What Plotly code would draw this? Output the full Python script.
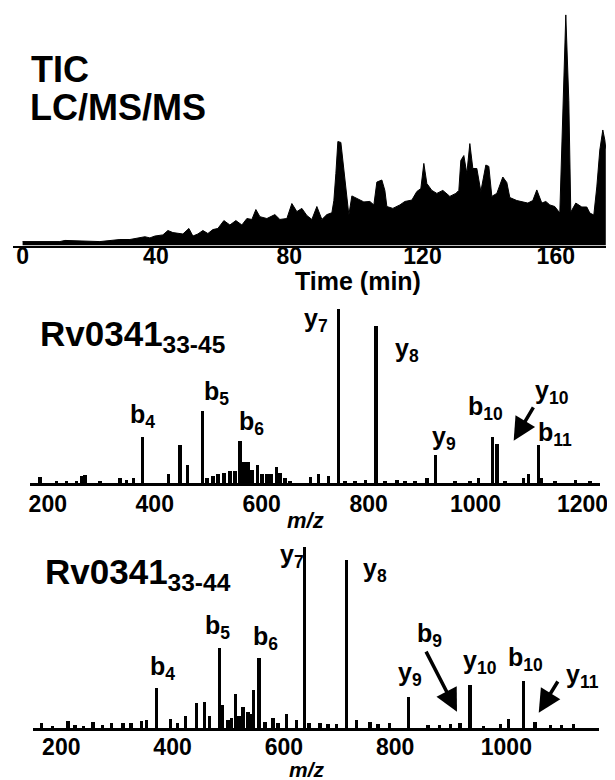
import plotly.graph_objects as go

# ---------------- data ----------------
tic_time = [0.0, 2.2, 6.7, 11.2, 12.7, 17.2, 23.2, 29.2,
            32.2, 36.7, 38.2, 39.7, 42.1, 43.6, 45.1, 48.1, 49.9, 51.1, 52.6, 54.1, 55.6,
            57.1, 58.6, 60.4, 62.2, 64.0, 65.8, 67.3, 68.8, 70.0, 71.2, 73.3, 75.7, 77.2,
            79.3, 80.8, 82.3, 83.8, 85.3, 86.8, 88.3, 89.8, 91.3, 92.8,
            93.4, 94.0, 94.6, 95.5, 96.4, 97.3, 97.9, 98.8, 100.0, 101.2, 102.4, 104.2, 105.4,
            106.3, 107.8, 108.7, 109.3, 111.1, 113.2, 114.7, 116.8, 118.3, 119.5, 120.4,
            121.3, 122.8, 124.3, 126.1, 128.2, 130.0, 130.9, 131.5, 132.4, 133.3, 134.2,
            135.1, 136.3, 137.5, 139.0, 139.9, 140.8, 142.3, 144.1, 145.3, 146.2, 148.3,
            149.8, 151.6, 153.1, 154.3, 155.8, 157.0, 158.2, 159.7, 161.2, 162.1, 163.0,
            163.9, 164.5, 166.0, 167.8, 169.3, 170.2, 171.4, 172.3, 173.2, 174.1, 174.7, 175.0]
tic_intensity = [1.7, 1.7, 2.0, 1.7, 2.2, 2.0, 1.7, 2.6,
                 2.6, 3.8, 3.3, 4.1, 4.6, 6.5, 5.6, 5.0, 7.4, 4.1, 5.0, 6.5, 5.2,
                 6.9, 7.4, 10.8, 8.9, 10.8, 8.9, 11.7, 11.3, 15.6, 12.5, 11.7, 13.4, 11.3,
                 11.7, 18.2, 14.7, 16.1, 13.0, 11.3, 16.9, 11.3, 13.4, 14.2,
                 19.5, 31.2, 45.1, 44.7, 32.5, 19.5, 13.2, 21.5, 20.6, 19.7, 18.9, 19.1, 17.6,
                 27.5, 28.4, 23.9, 16.9, 16.1, 17.6, 19.1, 19.7, 23.4, 24.7, 35.6,
                 26.9, 23.9, 22.6, 23.9, 21.3, 22.6, 23.9, 36.9, 39.0, 31.2, 44.2,
                 33.4, 33.4, 23.4, 34.9, 34.3, 21.3, 22.6, 29.7, 27.3, 20.8, 19.5,
                 18.9, 18.4, 19.5, 24.1, 18.4, 19.1, 17.6, 16.9, 14.1, 62.9, 100.0,
                 62.9, 14.5, 18.4, 16.7, 16.7, 14.1, 13.2, 25.4, 41.4, 50.1, 45.8, 42.0]

ms1_mz = [185.4, 216.7, 235.0, 254.0, 264.0, 269.6, 297.6, 335.0, 347.6, 360.0, 376.7,
          425.4, 447.2, 461.6, 489.7, 497.7, 509.0, 518.3, 529.5, 540.8, 550.0, 559.5,
          567.0, 574.5, 582.0, 591.8, 600.6, 610.0, 617.4, 628.1, 634.3, 643.6, 653.0,
          691.0, 706.6, 725.3, 744.0, 755.8, 774.5, 793.8, 813.8, 830.6, 853.0, 868.0,
          886.7, 909.2, 924.7, 961.5, 989.6, 1005.9, 1032.0, 1040.0, 1055.0, 1090.0,
          1099.4, 1118.0, 1124.0, 1148.6, 1186.6, 1214.0]
ms1_int = [3.8, 1.5, 1.7, 1.5, 4.6, 4.8, 1.2, 2.9, 2.3, 3.2, 26.8,
           5.3, 22.4, 10.5, 41.6, 3.4, 4.6, 5.7, 6.3, 6.9, 6.9, 24.5,
           12.6, 12.1, 7.5, 10.9, 5.2, 5.2, 5.7, 9.5, 6.3, 2.9, 1.7,
           3.8, 5.3, 4.4, 100.0, 1.2, 1.4, 2.3, 90.4, 1.4, 2.3, 1.7,
           1.2, 2.9, 16.3, 1.2, 1.7, 2.9, 26.8, 22.6, 1.4, 3.4,
           5.7, 22.0, 3.4, 1.7, 2.3, 1.2]

ms2_mz = [164.8, 185.0, 212.6, 225.0, 240.0, 257.5, 275.0, 290.6, 311.5, 326.0, 344.5,
          353.5, 371.5, 397.0, 410.0, 424.0, 443.4, 458.3, 467.0, 485.3, 490.0, 500.0,
          507.0, 514.0, 520.0, 527.0, 536.0, 541.0, 546.4, 556.0, 567.0, 581.0, 590.0,
          605.0, 623.0, 638.0, 646.0, 665.6, 680.0, 695.0, 713.6, 731.6, 755.5, 770.0,
          790.0, 824.5, 860.0, 880.0, 900.0, 917.0, 935.0, 960.0, 990.0, 1004.0, 1031.0,
          1052.0, 1080.0, 1100.0, 1121.0]
ms2_int = [3.1, 1.1, 4.2, 1.7, 1.1, 3.6, 1.7, 2.8, 2.8, 3.1, 4.0,
           4.6, 22.0, 5.1, 2.8, 6.8, 13.8, 14.3, 6.8, 44.0, 12.8, 4.4,
           5.5, 18.7, 6.6, 11.6, 9.1, 7.7, 21.1, 38.5, 3.3, 5.8, 2.8,
           7.9, 4.6, 100.0, 2.8, 3.1, 2.2, 2.2, 92.7, 4.6, 3.6, 2.2,
           2.8, 17.4, 1.7, 1.7, 2.2, 3.1, 23.8, 1.1, 2.2, 5.0, 26.2,
           3.3, 1.7, 1.7, 2.4]

tic_ticks = [0, 40, 80, 120, 160]
ms1_ticks = [200, 400, 600, 800, 1000, 1200]
ms2_ticks = [200, 400, 600, 800, 1000]

ms1_ions = ["y<sub>7</sub>", "y<sub>8</sub>", "b<sub>4</sub>", "b<sub>5</sub>", "b<sub>6</sub>",
            "y<sub>9</sub>", "b<sub>10</sub>", "y<sub>10</sub>", "b<sub>11</sub>"]
ms2_ions = ["y<sub>7</sub>", "y<sub>8</sub>", "b<sub>5</sub>", "b<sub>6</sub>", "b<sub>4</sub>",
            "b<sub>9</sub>", "y<sub>9</sub>", "y<sub>10</sub>", "b<sub>10</sub>", "y<sub>11</sub>"]

# ---------------- layout helpers (positions / styles) ----------------
# The page body has an 8px default margin, so the figure is drawn 8px in from
# the top-left corner of the 615x780 window; page pixels are converted here.
OFF = 8
W, H = 615 - OFF, 780 - OFF
FONT = "Liberation Sans, Arial, Helvetica, sans-serif"


def px_x(p):
    return (p - OFF) / W


def px_y(p):
    return 1 - (p - OFF) / H


ms1_label_xy = [(701.6, 94), (871.8, 76.6), (377, 38.7), (516.4, 51.9), (581.3, 34.7),
                (940.4, 26), (1019.5, 43.3), (1143, 52.5), (1149, 28.3)]
ms2_label_xy = [(614.2, 94.9), (763, 87.2), (480.8, 55.8), (567.6, 49.7), (381.9, 33.2),
                (861.9, 51.4), (827.4, 29.9), (953.2, 36.7), (1035.3, 38.2), (1136, 28.8)]

fig = go.Figure()

fig.add_trace(go.Scatter(x=tic_time, y=tic_intensity, mode="lines", fill="tozeroy",
                         line=dict(color="black", width=1), fillcolor="black",
                         xaxis="x", yaxis="y", showlegend=False))
fig.add_trace(go.Bar(x=ms1_mz, y=ms1_int, width=6, marker=dict(color="black", line=dict(width=0)),
                     xaxis="x2", yaxis="y2", showlegend=False))
fig.add_trace(go.Bar(x=ms2_mz, y=ms2_int, width=6, marker=dict(color="black", line=dict(width=0)),
                     xaxis="x3", yaxis="y3", showlegend=False))

tickfont = dict(family=FONT, size=23, color="black", weight="bold")
xcommon = dict(showgrid=False, zeroline=False, showline=True, linecolor="black",
               ticks="", tickfont=tickfont, fixedrange=True, automargin=False)
ycommon = dict(visible=False, showgrid=False, zeroline=False, fixedrange=True)

fig.update_layout(
    width=W, height=H, margin=dict(l=0, r=0, t=0, b=0, autoexpand=False),
    paper_bgcolor="white", plot_bgcolor="white",
    bargap=0,
    xaxis=dict(domain=[px_x(13), px_x(606)], range=[-2.88, 175.06], tickvals=tic_ticks,
               anchor="y", linewidth=2, ticklabelstandoff=-11, **xcommon),
    yaxis=dict(domain=[px_y(245.5), px_y(8)], range=[0, 103], anchor="x", **ycommon),
    xaxis2=dict(domain=[px_x(30), px_x(600.3)], range=[166.7, 1233.3], tickvals=ms1_ticks,
                anchor="y2", linewidth=3, ticklabelstandoff=-2, **xcommon),
    yaxis2=dict(domain=[px_y(483.3), px_y(305.8)], range=[0, 102], anchor="x2", **ycommon),
    xaxis3=dict(domain=[px_x(33.3), px_x(598.7)], range=[149.7, 1166.0], tickvals=ms2_ticks,
                anchor="y3", linewidth=3, ticklabelstandoff=-4, **xcommon),
    yaxis3=dict(domain=[px_y(728.3), px_y(543.1)], range=[0, 102], anchor="x3", **ycommon),
)

ann = []


def text_ann(txt, x, y, size, xanchor="left", italic=False):
    ann.append(dict(text=txt, x=px_x(x), y=px_y(y), xref="paper", yref="paper",
                    xanchor=xanchor, yanchor="middle", showarrow=False, borderpad=0,
                    font=dict(family=FONT, size=size, color="black", weight="bold",
                              style="italic" if italic else "normal")))


text_ann("TIC", 30, 70, 36)
text_ann("LC/MS/MS", 29, 107, 36)
text_ann("Time (min)", 358, 281, 25, xanchor="center")
text_ann("Rv0341<sub>33-45</sub>", 39, 336, 35)
text_ann("Rv0341<sub>33-44</sub>", 44, 574, 35)
text_ann("m/z", 305, 520, 22, xanchor="center", italic=True)
text_ann("m/z", 307, 769, 21, xanchor="center", italic=True)

for lab, (lx, ly) in zip(ms1_ions, ms1_label_xy):
    ann.append(dict(text=lab, x=lx, y=ly, xref="x2", yref="y2", xanchor="center",
                    yanchor="middle", showarrow=False, borderpad=0,
                    font=dict(family=FONT, size=25, color="black", weight="bold")))
for lab, (lx, ly) in zip(ms2_ions, ms2_label_xy):
    ann.append(dict(text=lab, x=lx, y=ly, xref="x3", yref="y3", xanchor="center",
                    yanchor="middle", showarrow=False, borderpad=0,
                    font=dict(family=FONT, size=25, color="black", weight="bold")))

# arrows (tip in data coordinates, tail offset in pixels)
arrow_style = dict(text="", showarrow=True, arrowhead=2, arrowsize=1.3, arrowwidth=3.5,
                   arrowcolor="black", standoff=0)
ann.append(dict(x=1071.3, y=24.5, xref="x2", yref="y2", ax=20.6, ay=-34.7, **arrow_style))
ann.append(dict(x=911.3, y=9.1, xref="x3", yref="y3", ax=-31.7, ay=-61.7, **arrow_style))
ann.append(dict(x=1058.2, y=8.6, xref="x3", yref="y3", ax=20.0, ay=-32.7, **arrow_style))

fig.update_layout(annotations=ann)
fig.write_html("out.html")
